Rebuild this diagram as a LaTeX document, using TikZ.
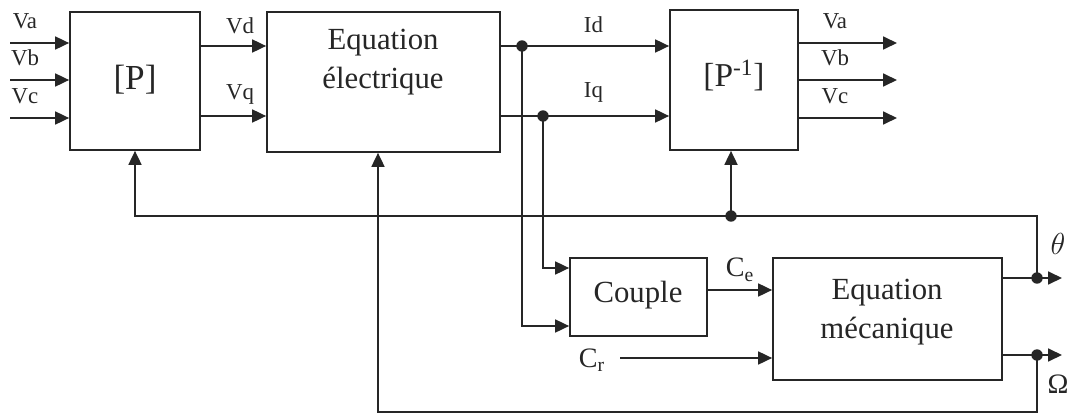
\documentclass[tikz,border=0pt]{standalone}
\usepackage{fontspec}
\setmainfont{Liberation Serif}
\usetikzlibrary{arrows.meta}

\begin{document}
\begin{tikzpicture}[x=0.02cm, y=-0.02cm, every node/.style={font=\fontsize{13}{15}\selectfont}, >={Triangle[length=2.8mm,width=2.6mm]}, line width=1pt, black!85]
	\useasboundingbox (0,0) rectangle (1071,419);
	\tikzset{bloc/.style={draw, line width=1pt, inner sep=0pt},
		gros/.style={font=\fontsize{17.5}{22}\selectfont, align=center},
		dot/.style={circle, fill, inner sep=0pt, minimum size=6.5pt}}
	% blocs
	\node[bloc, minimum width=2.6cm, minimum height=2.76cm] (P) at (135,81) {};
	\node[gros, font=\fontsize{20}{24}\selectfont] (P-txt) at (135,80) {[P]};
	\node[bloc, minimum width=4.66cm, minimum height=2.8cm] (elec) at (383.5,82) {};
	\node[gros] (elec-txt) at (383,62) {Equation\\électrique};
	\node[bloc, minimum width=2.56cm, minimum height=2.8cm] (Pinv) at (734,80) {};
	\node[gros, font=\fontsize{19}{24}\selectfont] (Pinv-txt) at (734,76) {[P\textsuperscript{-1}]};
	\node[bloc, minimum width=2.74cm, minimum height=1.56cm] (couple) at (638.5,297) {};
	\node[gros] (couple-txt) at (638,295) {Couple};
	\node[bloc, minimum width=4.58cm, minimum height=2.44cm] (meca) at (887.5,319) {};
	\node[gros] (meca-txt) at (887,312) {Equation\\mécanique};
	% entrees / sorties
	\foreach \y/\t in {43/Va,80/Vb,118/Vc} {
		\draw[->] (10,\y) -- (P.west|-0,\y);
		\node at (25,\y-22) {\t};
		\draw[->] (Pinv.east|-0,\y) -- (897,\y);
		\node at (835,\y-22) {\t};
	}
	\draw[->] (P.east|-0,46) -- (elec.west|-0,46) node[pos=0.6, above=3pt] {Vd};
	\draw[->] (P.east|-0,116) -- (elec.west|-0,116) node[pos=0.6, above=3pt] {Vq};
	\coordinate (jd) at (522,46);
	\coordinate (jq) at (543,116);
	\draw[->] (elec.east|-jd) -- (Pinv.west|-jd) node[pos=0.55, above=4pt] {Id};
	\draw[->] (elec.east|-jq) -- (Pinv.west|-jq) node[pos=0.55, above=4pt] {Iq};
	\node[dot] at (jd) {};
	\node[dot] at (jq) {};
	\draw[->] (jd) |- (couple.west|-0,326);
	\draw[->] (jq) |- (couple.west|-0,268);
	% couple
	\draw[->] (couple.east|-0,290) -- (meca.west|-0,290) node[midway, above=1pt, font=\fontsize{16}{18}\selectfont] {C\textsubscript{e}};
	\node[font=\fontsize{16}{18}\selectfont] (Cr) at (592,360) {C\textsubscript{r}};
	\draw[->] (620,358) -- (meca.west|-0,358);
	% sorties mecaniques
	\coordinate (jt) at (1037,278);
	\coordinate (jo) at (1037,355);
	\draw[->] (meca.east|-jt) -- (1062,278);
	\draw[->] (meca.east|-jo) -- (1062,355);
	\node[dot] at (jt) {};
	\node[dot] at (jo) {};
	\node[font=\fontsize{16}{18}\selectfont] (theta) at (1058,244) {$\theta$};
	\node[font=\fontsize{16}{18}\selectfont] (omega) at (1058,384) {Ω};
	% retours
	\coordinate (jp) at (731,216);
	\draw[->] (jt) -- (1037,216) -| (P.south);
	\draw[->] (jp) -- (Pinv.south-|jp);
	\node[dot] at (jp) {};
	\draw[->] (jo) -- (1037,412) -| (elec.south-|378,0);
\end{tikzpicture}
\end{document}
